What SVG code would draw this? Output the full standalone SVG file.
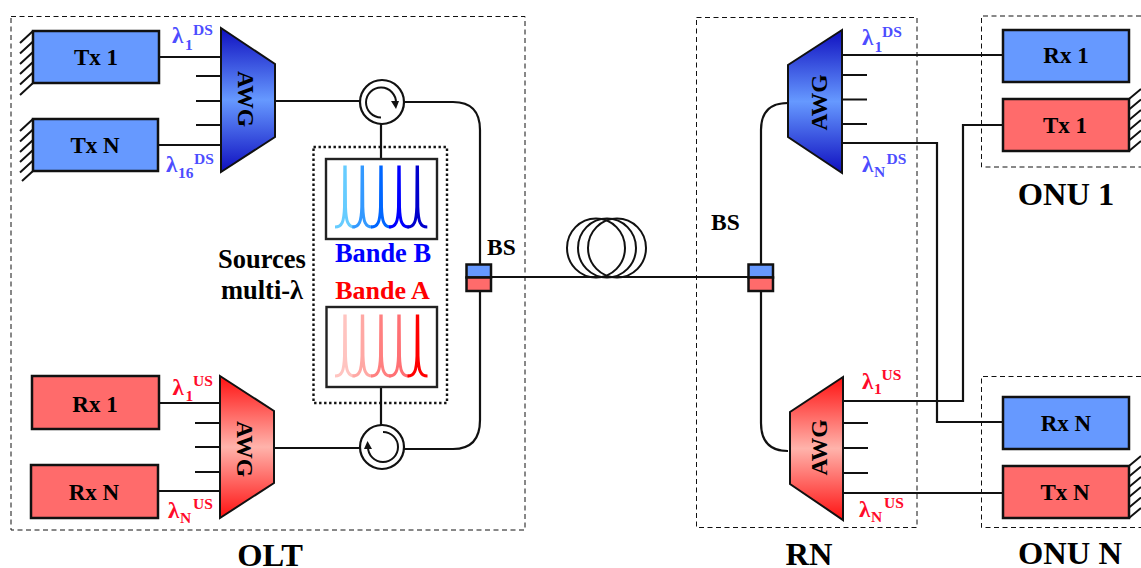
<svg xmlns="http://www.w3.org/2000/svg" width="1141" height="568" viewBox="0 0 1141 568">
<style>
text{font-family:"Liberation Serif","Times New Roman",serif;font-weight:bold;fill:#000}
.m{text-anchor:middle}
.n{font-size:23px}
.t{font-size:32.500px}
.b{font-size:23.500px}
.lb{fill:#4d4dff}
.lr{fill:#ff0a2a}
.l{font-size:23px}
.s{font-size:15.500px}
.u{font-size:15.500px}
.box{stroke:#111;stroke-width:2.5}
.blue{fill:#6699ff}
.red{fill:#ff6b6b}
.wire{fill:none;stroke:#111;stroke-width:2.2}
.hatch{fill:none;stroke:#111;stroke-width:2}
.zone{fill:none;stroke:#111;stroke-width:1;stroke-dasharray:5 3.5}
.dots{fill:none;stroke:#111;stroke-width:2.4;stroke-dasharray:2.4 2.6}
.awg{stroke:#111;stroke-width:2}
.panel{fill:#fff;stroke:#222;stroke-width:2.4}
.pk{fill:none;stroke-width:3}
.circ{fill:#fff;stroke:#111;stroke-width:2.2}
.arc{fill:none;stroke:#111;stroke-width:2}
</style>
<defs>
<linearGradient id="gb" x1="0" y1="0" x2="0" y2="1"><stop offset="0" stop-color="#0f0fc0"/><stop offset=".5" stop-color="#6699ff"/><stop offset="1" stop-color="#0f0fc0"/></linearGradient>
<linearGradient id="gr" x1="0" y1="0" x2="0" y2="1"><stop offset="0" stop-color="#ff1111"/><stop offset=".5" stop-color="#ffb3ab"/><stop offset="1" stop-color="#ff1111"/></linearGradient>
<path id="peak" d="M-10 0C-3 0-1-5-.5-20L-.2-60H.2L.5-20C1-5 3 0 10 0"/>
</defs>

<g id="zones">
<rect id="olt-zone" class="zone" x="11" y="16.500" width="514" height="513.500"/>
<rect id="rn-zone" class="zone" x="696.500" y="17.500" width="220.500" height="510"/>
<path id="onu1-zone" class="zone" d="M1141 16H981.500V167H1141"/>
<path id="onun-zone" class="zone" d="M1141 376.500H981.500V527.500H1141"/>
</g>

<g id="connectors">
<path class="wire" d="M159 57H221M196 76H221M196 101H221M196 125H221M158 145H221"/>
<path class="wire" d="M275 101H360M404 102H453Q480 102 480 130V264"/>
<path class="wire" d="M381 124V159M381 387V425"/>
<path class="wire" d="M159 403H220M195 423H220M195 447H220M195 472H220M158 491H220"/>
<path class="wire" d="M274 448H360M404 449H453Q480 449 480 420V291"/>
<path class="wire" d="M491 277H748"/>
<ellipse class="arc" cx="596" cy="248" rx="29" ry="29.500"/>
<ellipse class="arc" cx="607" cy="248" rx="29" ry="29.500"/>
<ellipse class="arc" cx="617" cy="248" rx="29" ry="29.500"/>
<path class="wire" d="M788 103Q761 103 761 130V264M761 291V423Q761 451 788 451"/>
<path class="wire" d="M842 55H1003M842 75H867M842 99.500H867M842 124H867M842 143H937V422H1003"/>
<path class="wire" d="M1003 125H963V401H843M843 423H868M843 448H868M843 473H868M843 493H1003"/>
</g>

<g id="tx1-olt"><path class="hatch" d="M33 31L20 43M33 41.500L20 53.500M33 52L20 64M33 62L20 74M33 72.500L20 84.500M33 83L20 95"/><rect class="box blue" x="33" y="31" width="126" height="52"/><text class="n m" x="96" y="65">Tx 1</text></g>
<g id="txn-olt"><path class="hatch" d="M33 119L20 131M33 129.500L20 141.500M33 140L20 152M33 150L20 162M33 160.500L20 172.500M33 171L22 181"/><rect class="box blue" x="33" y="119" width="125" height="52"/><text class="n m" x="95" y="153">Tx N</text></g>
<g id="rx1-olt"><rect class="box red" x="32" y="376" width="127" height="53"/><text class="n m" x="95" y="412">Rx 1</text></g>
<g id="rxn-olt"><rect class="box red" x="31" y="465" width="127" height="53"/><text class="n m" x="94" y="500">Rx N</text></g>

<g id="awg-olt-ds"><polygon class="awg" fill="url(#gb)" points="221,28 275,64 275,137 221,172"/><text class="b m" transform="translate(238 99) rotate(90)">AWG</text></g>
<g id="awg-olt-us"><polygon class="awg" fill="url(#gr)" points="220,376 274,411 274,483 220,518"/><text class="b m" transform="translate(237 449) rotate(90)">AWG</text></g>

<g id="circ-top"><circle class="circ" cx="382" cy="102" r="22"/><path class="arc" d="M381 117.500A15 15 0 1 1 396 103"/><polygon fill="#111" points="391,101 399,101 396,109"/></g>
<g id="circ-bottom"><circle class="circ" cx="382" cy="447" r="22"/><path class="arc" d="M383 432A15 15 0 1 1 368 447"/><polygon fill="#111" points="364,449 372,449 367.500,441"/></g>

<g id="sources">
<rect class="dots" x="313.500" y="147" width="133.500" height="256"/>
<rect class="panel" x="326" y="159" width="111" height="80"/>
<g class="pk">
<use href="#peak" x="345" y="227" stroke="#66ccff"/><use href="#peak" x="362.300" y="227" stroke="#3399ff"/><use href="#peak" x="381" y="227" stroke="#0066ff"/><use href="#peak" x="399" y="227" stroke="#0000ff"/><use href="#peak" x="417.300" y="227" stroke="#0000cc"/>
</g>
<rect class="panel" x="326.500" y="307" width="110.500" height="80"/>
<g class="pk">
<use href="#peak" x="345" y="376" stroke="#ffc4c0"/><use href="#peak" x="362.500" y="376" stroke="#ffa8a4"/><use href="#peak" x="381" y="376" stroke="#ff8080"/><use href="#peak" x="399" y="376" stroke="#ff7074"/><use href="#peak" x="417.500" y="376" stroke="#ff0000"/>
</g>
<text class="m" x="383" y="262" font-size="26.400" style="fill:#0000ff">Bande B</text>
<text class="m" x="382.500" y="299" font-size="26" style="fill:#ff0000">Bande A</text>
<text class="m" x="262" y="268" font-size="26.500">Sources</text>
<text class="m" x="262" y="299" font-size="26.500">multi-λ</text>
</g>

<g id="bs-olt"><rect class="box blue" x="466.500" y="264.500" width="24.500" height="13"/><rect class="box red" x="466.500" y="277.500" width="24.500" height="13.500"/><text class="b" x="487" y="255">BS</text></g>
<g id="bs-rn"><rect class="box blue" x="748.500" y="264.500" width="24.500" height="13"/><rect class="box red" x="748.500" y="277.500" width="24.500" height="13.500"/><text class="b" x="711" y="230">BS</text></g>

<g id="awg-rn-ds"><polygon class="awg" fill="url(#gb)" points="842,30 788,65 788,137 842,173"/><text class="b m" transform="translate(827 102.500) rotate(-90)">AWG</text></g>
<g id="awg-rn-us"><polygon class="awg" fill="url(#gr)" points="843,377 790,412 790,484 843,520"/><text class="b m" transform="translate(827 447.500) rotate(-90)">AWG</text></g>

<g id="rx1-onu"><rect class="box blue" x="1003" y="30" width="126" height="52"/><text class="n m" x="1066" y="63">Rx 1</text></g>
<g id="tx1-onu"><path class="hatch" d="M1129 99L1141 89M1129 109.500L1141 99.500M1129 120L1141 110M1129 130L1141 120M1129 140.500L1141 130.500M1129 151L1141 141"/><rect class="box red" x="1003" y="99" width="126" height="52"/><text class="n m" x="1065" y="133">Tx 1</text></g>
<g id="rxn-onu"><rect class="box blue" x="1003" y="397" width="126" height="52"/><text class="n m" x="1066" y="431">Rx N</text></g>
<g id="txn-onu"><path class="hatch" d="M1129 466L1141 456M1129 476.500L1141 466.500M1129 487L1141 477M1129 497L1141 487M1129 507.500L1141 497.500M1129 518L1141 508"/><rect class="box red" x="1003" y="466" width="126" height="52"/><text class="n m" x="1065" y="500">Tx N</text></g>

<g id="lambda-labels">
<text class="lb"><tspan class="l" x="172" y="43">λ</tspan><tspan class="s" x="185" y="50">1</tspan><tspan class="u" x="193" y="35">DS</tspan></text>
<text class="lb"><tspan class="l" x="166" y="172">λ</tspan><tspan class="s" x="178" y="178">16</tspan><tspan class="u" x="194" y="164">DS</tspan></text>
<text class="lr"><tspan class="l" x="172.500" y="395">λ</tspan><tspan class="s" x="185.500" y="401">1</tspan><tspan class="u" x="193" y="386">US</tspan></text>
<text class="lr"><tspan class="l" x="168" y="518">λ</tspan><tspan class="s" x="180" y="523">N</tspan><tspan class="u" x="193" y="509">US</tspan></text>
<text class="lb"><tspan class="l" x="862" y="45">λ</tspan><tspan class="s" x="874.500" y="52">1</tspan><tspan class="u" x="882" y="37">DS</tspan></text>
<text class="lb"><tspan class="l" x="862" y="172">λ</tspan><tspan class="s" x="874" y="177">N</tspan><tspan class="u" x="886.500" y="164">DS</tspan></text>
<text class="lr"><tspan class="l" x="862" y="389">λ</tspan><tspan class="s" x="874" y="394">1</tspan><tspan class="u" x="881.500" y="380">US</tspan></text>
<text class="lr"><tspan class="l" x="859" y="517">λ</tspan><tspan class="s" x="871" y="522">N</tspan><tspan class="u" x="884" y="508">US</tspan></text>
</g>

<g id="titles">
<text class="t m" x="270" y="566">OLT</text>
<text class="t m" x="809" y="565">RN</text>
<text class="t m" x="1066" y="205">ONU 1</text>
<text class="t m" x="1070" y="564">ONU N</text>
</g>
</svg>
